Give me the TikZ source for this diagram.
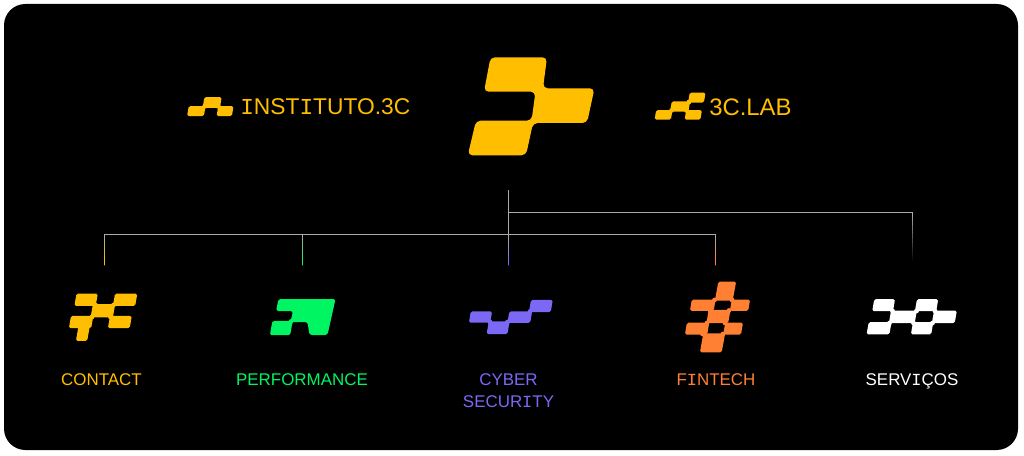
\documentclass[tikz,border=0pt]{standalone}
\usepackage{fontspec}
\setmainfont{Liberation Sans}
\newfontfamily\slabfont{Liberation Mono}
\usetikzlibrary{calc}
\definecolor{brandyellow}{HTML}{FFBE00}
\definecolor{brandgreen}{HTML}{00F562}
\definecolor{brandviolet}{HTML}{7B68F5}
\definecolor{brandorange}{HTML}{FF8033}
\definecolor{wirecolor}{HTML}{A8ABA6}
\newcommand{\slabI}{{\slabfont I}}
% bloco inclinado: x da base, y do topo, largura, altura
\newcommand{\blk}[4]{\fill[rounded corners=1.2pt] ({#1+0.2*(#4)-0.9},{#2-0.9}) -- ++({#3+1.8},0) -- ({#1+#3+0.9},{#2+#4+0.9}) -- ({#1-0.9},{#2+#4+0.9}) -- cycle;}
% emenda entre dois blocos
\newcommand{\jnt}[1]{\foreach \p in {#1}{\fill \p circle[radius=1.8pt];}}
% fio com passagem de cor
\newcommand{\fadewire}[3]{%
	\foreach \k in {0,...,11}{
		\pgfmathsetmacro{\mixp}{100-\k*100/11}
		\pgfmathsetmacro{\kfrom}{\k/12}
		\pgfmathsetmacro{\kto}{(\k+1)/12}
		\draw[wirecolor!\mixp!#3,line width=0.55pt,line cap=rect] ($(#1)!\kfrom!(#2)$) -- ($(#1)!\kto!(#2)$);
	}}
\tikzset{
	biglabel/.style={font=\fontsize{17.1}{19}\selectfont,anchor=west,inner sep=0pt},
	smalllabel/.style={font=\fontsize{12.7}{15}\selectfont,align=center,anchor=north,inner sep=0pt},
	wire/.style={wirecolor,line width=0.55pt}
}
\begin{document}
\begin{tikzpicture}[x=0.75pt,y=-0.75pt,line join=round]
	\useasboundingbox (0,0) rectangle (1024,456);
	\fill[white] (0,0) rectangle (1024,456);
	\fill[black,rounded corners=16pt] (4,4) rectangle (1018,450);
	% ligacoes
	\coordinate (hub) at (508.5,190);
	\coordinate (fork) at (508.5,212.5);
	\coordinate (bus) at (508.5,234.5);
	\coordinate (topcorner) at (912.5,212.5);
	\coordinate (buscontact) at (104.5,234.5);
	\coordinate (busperformance) at (302.5,234.5);
	\coordinate (busfintech) at (715.5,234.5);
	\coordinate (endcontact) at (104.5,265);
	\coordinate (endperformance) at (302.5,265);
	\coordinate (endcyber) at (508.5,265);
	\coordinate (endfintech) at (715.5,265);
	\coordinate (endservicos) at (912.5,265);
	\draw[wire] (hub) -- (bus);
	\draw[wire] (fork) -- (topcorner);
	\draw[wire] (buscontact) -- (busfintech);
	\fadewire{buscontact}{endcontact}{brandyellow}
	\fadewire{busperformance}{endperformance}{brandgreen}
	\fadewire{bus}{endcyber}{brandviolet}
	\fadewire{busfintech}{endfintech}{brandorange}
	\fadewire{topcorner}{endservicos}{black}
	% marca central
	\fill[brandyellow,rounded corners=3.4pt] (490.5,57.3) -- (547,57.3) -- (543,88.3) -- (594.5,88.3) -- (587,123) -- (533,123) -- (526,155.3) -- (467.8,155.3) -- (476,120.7) -- (531.5,120.7) -- (535.5,91.7) -- (484,91.7) -- cycle;
	% instituto
	\begin{scope}[brandyellow]
		\blk{188}{107}{15}{8.2}
		\blk{203.5}{98}{15.5}{9}
		\blk{217.5}{107}{13.5}{8.2}
		\jnt{(204.5,106.5),(218.5,106.5)}
		% lab
		\blk{655.5}{111}{14.5}{7.8}
		\blk{671}{102.2}{16.5}{8.5}
		\blk{685.5}{111}{14}{7.8}
		\blk{689}{93.5}{14}{8.2}
		\jnt{(671.5,110.5),(686.5,110.5),(689,102)}
		% contact
		\blk{75.3}{294.5}{19.5}{10.5}
		\blk{113.8}{294.5}{20.5}{10.5}
		\blk{91.5}{305}{20.5}{11.5}
		\blk{108.8}{316.8}{20}{10.5}
		\blk{69.8}{316.8}{20.5}{10.5}
		\blk{76.8}{327.5}{9.5}{12.5}
		\jnt{(95.5,305),(113.5,305),(92,317),(110.5,317)}
	\end{scope}
	\node[biglabel,text=brandyellow] (instituto) at (240,106.5) {\slabI NST\slabI TUTO.3C};
	\node[biglabel,text=brandyellow,font=\fontsize{17.9}{20}\selectfont] (lab) at (709,107) {3C.LAB};
	% performance
	\fill[brandgreen,rounded corners=1.8pt] (278.5,299) -- (335.5,299) -- (327.5,335) -- (309.5,335) -- (307.5,322) -- (290.5,322) -- (293,311) -- (276,311) -- cycle;
	\begin{scope}[brandgreen]
		\blk{270.8}{321.8}{18.5}{12.4}
		\jnt{(291,321.5)}
	\end{scope}
	% cyber
	\begin{scope}[brandviolet]
		\blk{469.8}{312.3}{19.5}{9.5}
		\blk{487.5}{322.3}{19}{11}
		\blk{508.3}{312.3}{21}{9.6}
		\blk{529.8}{300.8}{20}{10.5}
		\jnt{(490,322),(507.5,322),(530,311.5)}
	\end{scope}
	% fintech
	\begin{scope}[brandorange]
		\blk{715.8}{282.5}{16}{17.2}
		\blk{690.8}{300.5}{22}{9.4}
		\blk{730.8}{300.5}{16.5}{9.4}
		\blk{707.3}{310.8}{20}{11.4}
		\blk{685.8}{323.6}{20.5}{10.1}
		\blk{724.1}{323.6}{16}{10.1}
		\blk{700.8}{334.3}{20}{17.2}
		\jnt{(714.5,300),(732,300),(710,310.5),(729,310.5),(707,323),(725,323),(702.5,334),(723,334)}
	\end{scope}
	% servicos
	\begin{scope}[white]
		\blk{873.1}{300.1}{19}{10.2}
		\blk{915.8}{300.1}{19.5}{10.2}
		\blk{889.8}{311.5}{24}{10.7}
		\blk{932.8}{311.5}{21}{10.7}
		\blk{867.5}{323.1}{21}{10.4}
		\blk{911.8}{323.1}{18.5}{10.4}
		\jnt{(892.5,311),(916.5,311),(935,311),(889.5,323),(913.5,323),(932.5,323)}
	\end{scope}
	% rotulos
	\node[smalllabel,text=brandyellow] (contact) at (101.5,373) {CONTACT};
	\node[smalllabel,text=brandgreen] (performance) at (302,373) {PERFORMANCE};
	\node[smalllabel,text=brandviolet,text width=110pt] (cyber) at (508.5,373) {CYBER\\[1.5pt]SECUR\slabI TY};
	\node[smalllabel,text=brandorange] (fintech) at (716,373) {F\slabI NTECH};
	\node[smalllabel,text=white] (servicos) at (912,373) {SERV\slabI ÇOS};
\end{tikzpicture}
\end{document}
